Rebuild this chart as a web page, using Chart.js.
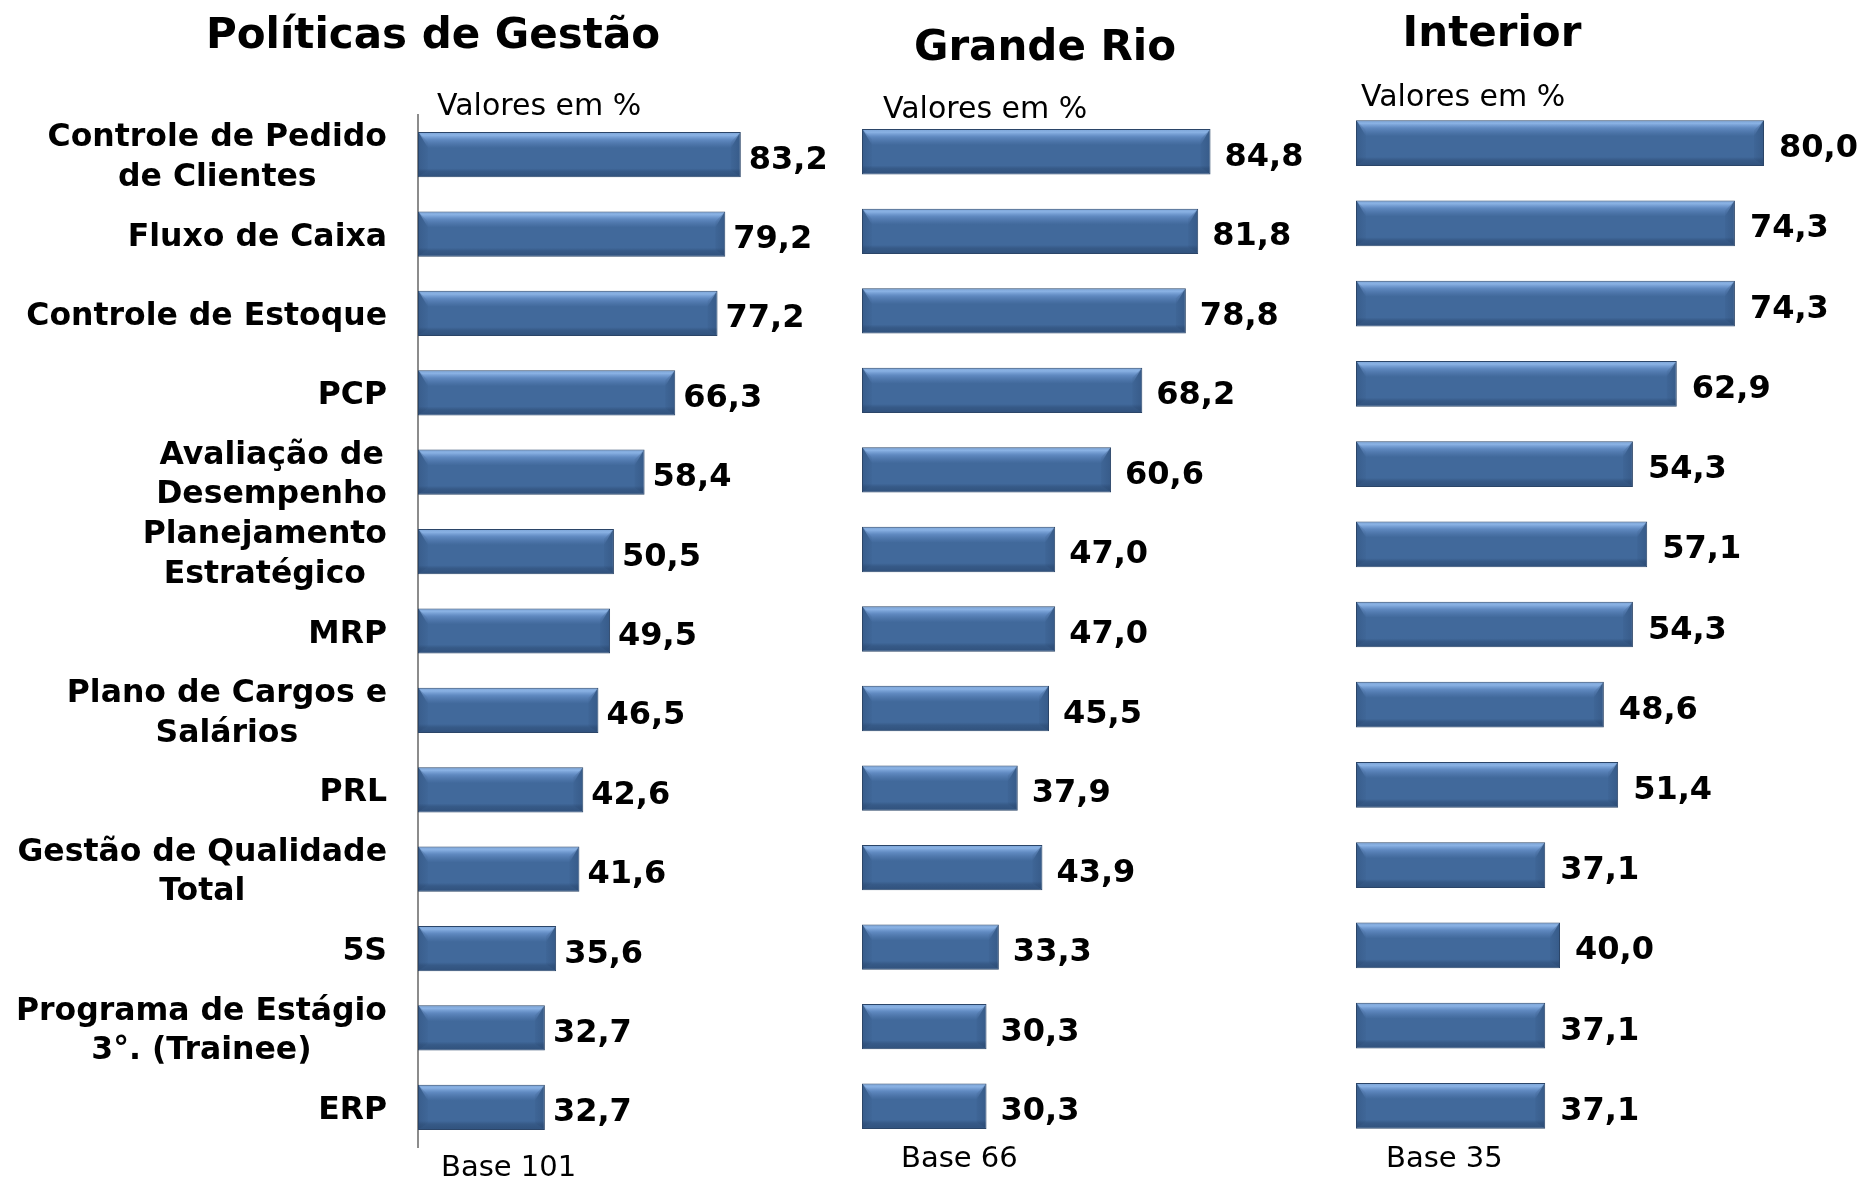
<!DOCTYPE html>
<html>
<head>
<meta charset="utf-8">
<title>Políticas de Gestão</title>
<script src="https://cdn.jsdelivr.net/npm/chart.js@4.4.1/dist/chart.umd.min.js"></script>
<style>
  html, body { margin: 0; padding: 0; background: #fff; }
  #wrap { position: relative; width: 1865px; height: 1178px; overflow: hidden; }
  canvas { position: absolute; top: 0; }
</style>
</head>
<body>
<div id="wrap">
  <canvas id="chartGestao" width="860" height="1178" style="left:0px"></canvas>
  <canvas id="chartRio" width="480" height="1178" style="left:860px"></canvas>
  <canvas id="chartInterior" width="525" height="1178" style="left:1340px"></canvas>
</div>
<script>
// dados
const categorias = [
  ["Controle de Pedido", "de Clientes"],
  "Fluxo de Caixa",
  "Controle de Estoque",
  "PCP",
  ["Avaliação de", "Desempenho"],
  ["Planejamento", "Estratégico"],
  "MRP",
  ["Plano de Cargos e", "Salários"],
  "PRL",
  ["Gestão de Qualidade", "Total"],
  "5S",
  ["Programa de Estágio", "3°. (Trainee)"],
  "ERP"
];
const valoresGestao = [83.2, 79.2, 77.2, 66.3, 58.4, 50.5, 49.5, 46.5, 42.6, 41.6, 35.6, 32.7, 32.7];
const valoresGrandeRio = [84.8, 81.8, 78.8, 68.2, 60.6, 47.0, 47.0, 45.5, 37.9, 43.9, 33.3, 30.3, 30.3];
const valoresInterior = [80.0, 74.3, 74.3, 62.9, 54.3, 57.1, 54.3, 48.6, 51.4, 37.1, 40.0, 37.1, 37.1];
const titulos = ["Políticas de Gestão", "Grande Rio", "Interior"];
const subtitulo = "Valores em %";
const bases = ["Base 101", "Base 66", "Base 35"];

const FONTE = '"DejaVu Sans", Verdana, sans-serif';

// efeito de bisel nas barras
const bevelPlugin = {
  id: 'bevel',
  afterDatasetsDraw(chart) {
    const ctx = chart.ctx;
    const meta = chart.getDatasetMeta(0);
    ctx.save();
    meta.data.forEach(function (bar) {
      const p = bar.getProps(['x', 'y', 'base', 'height'], true);
      const left = Math.min(p.base, p.x) + 1;
      const right = Math.max(p.base, p.x) - 1;
      const top = p.y - p.height / 2 + 1;
      const bottom = p.y + p.height / 2 - 1;
      const w = right - left;

      let g = ctx.createLinearGradient(0, top, 0, top + 15);
      g.addColorStop(0, 'rgba(150,190,240,0.75)');
      g.addColorStop(0.15, 'rgba(150,190,240,0.85)');
      g.addColorStop(0.45, 'rgba(125,168,228,0.5)');
      g.addColorStop(1, 'rgba(110,150,210,0)');
      ctx.fillStyle = g;
      ctx.beginPath();
      ctx.moveTo(left, top);
      ctx.lineTo(right, top);
      ctx.lineTo(right - 9, top + 15);
      ctx.lineTo(left + 9, top + 15);
      ctx.closePath();
      ctx.fill();

      g = ctx.createLinearGradient(0, bottom - 8, 0, bottom);
      g.addColorStop(0, 'rgba(30,55,90,0)');
      g.addColorStop(0.4, 'rgba(30,55,90,0.3)');
      g.addColorStop(1, 'rgba(30,55,90,0.45)');
      ctx.fillStyle = g;
      ctx.fillRect(left, bottom - 8, w, 8);

      g = ctx.createLinearGradient(right - 9, 0, right, 0);
      g.addColorStop(0, 'rgba(35,62,100,0.08)');
      g.addColorStop(1, 'rgba(35,62,100,0.3)');
      ctx.fillStyle = g;
      ctx.beginPath();
      ctx.moveTo(right, top);
      ctx.lineTo(right, bottom);
      ctx.lineTo(right - 9, bottom - 6);
      ctx.lineTo(right - 9, top + 9);
      ctx.closePath();
      ctx.fill();

      g = ctx.createLinearGradient(left, 0, left + 9, 0);
      g.addColorStop(0, 'rgba(35,62,100,0.25)');
      g.addColorStop(1, 'rgba(35,62,100,0.05)');
      ctx.fillStyle = g;
      ctx.beginPath();
      ctx.moveTo(left, top);
      ctx.lineTo(left + 9, top + 9);
      ctx.lineTo(left + 9, bottom - 6);
      ctx.lineTo(left, bottom);
      ctx.closePath();
      ctx.fill();
    });
    ctx.restore();
  }
};

// titulos, categorias, valores e bases
const textosPlugin = {
  id: 'textos',
  afterDraw(chart, args, opts) {
    const ctx = chart.ctx;
    const dx = opts.offset;
    ctx.save();
    ctx.fillStyle = '#000';
    ctx.textBaseline = 'alphabetic';

    ctx.font = 'bold 42px ' + FONTE;
    ctx.textAlign = 'center';
    ctx.fillText(opts.titulo, opts.tituloX - dx, opts.tituloY);

    ctx.font = '30px ' + FONTE;
    ctx.textAlign = 'left';
    ctx.fillText(subtitulo, opts.subX - dx, opts.subY);

    ctx.font = '29px ' + FONTE;
    ctx.fillText(opts.base, opts.baseX - dx, opts.baseY);

    // valores das barras
    const meta = chart.getDatasetMeta(0);
    const dados = chart.data.datasets[0].data;
    ctx.font = 'bold 32px ' + FONTE;
    meta.data.forEach(function (bar, i) {
      ctx.fillText(dados[i].toFixed(1).replace('.', ','), bar.x + opts.gap, bar.y + 14);
    });

    // categorias (so no primeiro painel)
    if (opts.categorias) {
      const y = chart.scales.y;
      ctx.font = 'bold 31.5px ' + FONTE;
      ctx.textAlign = 'center';
      chart.data.labels.forEach(function (lab, i) {
        const yc = y.getPixelForValue(i);
        const linhas = Array.isArray(lab) ? lab : [lab];
        let maior = 0;
        linhas.forEach(function (l) { maior = Math.max(maior, ctx.measureText(l).width); });
        const cx = opts.catRight - dx - maior / 2;
        linhas.forEach(function (l, k) {
          ctx.fillText(l, cx, yc + (k - (linhas.length - 1) / 2) * 39.5 + 11.5);
        });
      });
    }
    ctx.restore();
  }
};

function criarPainel(id, valores, max, eixo, padding, textos) {
  return new Chart(document.getElementById(id), {
    type: 'bar',
    data: {
      labels: categorias,
      datasets: [{
        data: valores,
        backgroundColor: '#41699b',
        borderColor: '#2b4568',
        borderWidth: 1,
        borderSkipped: false,
        barPercentage: 0.57,
        categoryPercentage: 1
      }]
    },
    options: {
      indexAxis: 'y',
      responsive: false,
      animation: false,
      layout: { padding: padding },
      scales: {
        x: { display: false, min: 0, max: max },
        y: {
          display: eixo,
          grid: { display: false, drawTicks: false },
          ticks: { display: false },
          border: { display: eixo, color: '#8c8c8c', width: 2 }
        }
      },
      plugins: {
        legend: { display: false },
        tooltip: { enabled: false },
        textos: textos
      }
    },
    plugins: [bevelPlugin, textosPlugin]
  });
}

criarPainel('chartGestao', valoresGestao, 100, true,
  { left: 418, right: 54, top: 115, bottom: 31 },
  { offset: 0, titulo: titulos[0], tituloX: 433, tituloY: 48,
    subX: 437, subY: 115, base: bases[0], baseX: 441, baseY: 1176,
    gap: 8, categorias: true, catRight: 387 });

criarPainel('chartRio', valoresGrandeRio, 100, false,
  { left: 2, right: 67, top: 112, bottom: 32 },
  { offset: 860, titulo: titulos[1], tituloX: 1045, tituloY: 60,
    subX: 883, subY: 118, base: bases[1], baseX: 901, baseY: 1167,
    gap: 14, categorias: false });

criarPainel('chartInterior', valoresInterior, 90, false,
  { left: 16, right: 50, top: 103, bottom: 32 },
  { offset: 1340, titulo: titulos[2], tituloX: 1492, tituloY: 46,
    subX: 1361, subY: 106, base: bases[2], baseX: 1386, baseY: 1167,
    gap: 15, categorias: false });
</script>
</body>
</html>
